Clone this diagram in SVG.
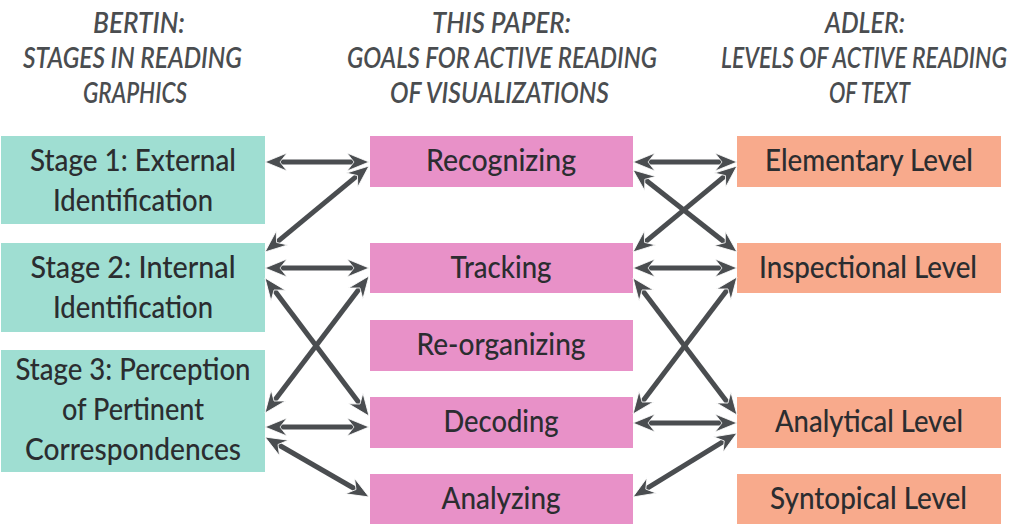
<svg xmlns="http://www.w3.org/2000/svg" width="1024" height="528" viewBox="0 0 1024 528">
  <style>
    .hdr { font-family: Lato, "Open Sans", "Liberation Sans", sans-serif; font-style: italic; font-weight: 600; font-size: 28px; fill: #4a4d50; text-anchor: middle; }
    .lbl { font-family: Lato, "Open Sans", "Liberation Sans", sans-serif; font-weight: 500; font-size: 30px; fill: #2b2d30; text-anchor: middle; }
    .bertin { fill: #9fded2; }
    .goal { fill: #e891c8; }
    .adler { fill: #f8aa8c; }
    .arrow { fill: none; stroke: #4a4d50; stroke-width: 5; marker-start: url(#head); marker-end: url(#head); }
  </style>
  <defs>
    <marker id="head" markerUnits="userSpaceOnUse" viewBox="-24 -11 26 22" markerWidth="26" markerHeight="22" refX="-12" refY="0" orient="auto-start-reverse">
      <path d="M0,0 L-22,-9 L-15,0 L-22,9 Z" fill="#4a4d50" stroke="#ffffff" stroke-width="0.8" stroke-linejoin="miter"/>
    </marker>
  </defs>
  <rect width="1024" height="528" fill="#ffffff"/>

  <!-- column headings -->
  <g id="heading-bertin">
    <text class="hdr" x="139" y="33" textLength="92" lengthAdjust="spacingAndGlyphs">BERTIN:</text>
    <text class="hdr" x="132.5" y="68" textLength="219" lengthAdjust="spacingAndGlyphs">STAGES IN READING</text>
    <text class="hdr" x="135" y="103" textLength="104" lengthAdjust="spacingAndGlyphs">GRAPHICS</text>
  </g>
  <g id="heading-paper">
    <text class="hdr" x="501.5" y="33" textLength="139" lengthAdjust="spacingAndGlyphs">THIS PAPER:</text>
    <text class="hdr" x="502" y="68" textLength="310" lengthAdjust="spacingAndGlyphs">GOALS FOR ACTIVE READING</text>
    <text class="hdr" x="499.5" y="103" textLength="219" lengthAdjust="spacingAndGlyphs">OF VISUALIZATIONS</text>
  </g>
  <g id="heading-adler">
    <text class="hdr" x="865" y="33" textLength="80" lengthAdjust="spacingAndGlyphs">ADLER:</text>
    <text class="hdr" x="864" y="68" textLength="286" lengthAdjust="spacingAndGlyphs">LEVELS OF ACTIVE READING</text>
    <text class="hdr" x="869.5" y="103" textLength="81" lengthAdjust="spacingAndGlyphs">OF TEXT</text>
  </g>

  <!-- Bertin: stages in reading graphics -->
  <g id="stage1">
    <rect class="bertin" x="1" y="136" width="264" height="88"/>
    <text class="lbl" x="133" y="171" textLength="206" lengthAdjust="spacingAndGlyphs">Stage 1: External</text>
    <text class="lbl" x="133" y="211" textLength="160" lengthAdjust="spacingAndGlyphs">Identification</text>
  </g>
  <g id="stage2">
    <rect class="bertin" x="1" y="243" width="264" height="89"/>
    <text class="lbl" x="133" y="278" textLength="205" lengthAdjust="spacingAndGlyphs">Stage 2: Internal</text>
    <text class="lbl" x="133" y="318" textLength="160" lengthAdjust="spacingAndGlyphs">Identification</text>
  </g>
  <g id="stage3">
    <rect class="bertin" x="1" y="350" width="264" height="122"/>
    <text class="lbl" x="133" y="380" textLength="235" lengthAdjust="spacingAndGlyphs">Stage 3: Perception</text>
    <text class="lbl" x="133" y="420" textLength="142" lengthAdjust="spacingAndGlyphs">of Pertinent</text>
    <text class="lbl" x="133" y="460" textLength="216" lengthAdjust="spacingAndGlyphs">Correspondences</text>
  </g>

  <!-- goals for active reading of visualizations -->
  <g id="recognizing">
    <rect class="goal" x="370" y="136" width="263" height="51"/>
    <text class="lbl" x="501" y="171" textLength="150" lengthAdjust="spacingAndGlyphs">Recognizing</text>
  </g>
  <g id="tracking">
    <rect class="goal" x="370" y="243" width="263" height="50"/>
    <text class="lbl" x="501" y="278" textLength="101" lengthAdjust="spacingAndGlyphs">Tracking</text>
  </g>
  <g id="reorganizing">
    <rect class="goal" x="370" y="320" width="263" height="51"/>
    <text class="lbl" x="501" y="355" textLength="169" lengthAdjust="spacingAndGlyphs">Re-organizing</text>
  </g>
  <g id="decoding">
    <rect class="goal" x="370" y="397" width="263" height="51"/>
    <text class="lbl" x="501" y="432" textLength="115" lengthAdjust="spacingAndGlyphs">Decoding</text>
  </g>
  <g id="analyzing">
    <rect class="goal" x="370" y="474" width="263" height="50"/>
    <text class="lbl" x="501" y="509" textLength="119" lengthAdjust="spacingAndGlyphs">Analyzing</text>
  </g>

  <!-- Adler: levels of active reading of text -->
  <g id="elementary">
    <rect class="adler" x="737" y="136" width="264" height="51"/>
    <text class="lbl" x="869" y="171" textLength="208" lengthAdjust="spacingAndGlyphs">Elementary Level</text>
  </g>
  <g id="inspectional">
    <rect class="adler" x="737" y="243" width="264" height="50"/>
    <text class="lbl" x="868" y="278" textLength="218" lengthAdjust="spacingAndGlyphs">Inspectional Level</text>
  </g>
  <g id="analytical">
    <rect class="adler" x="737" y="397" width="264" height="51"/>
    <text class="lbl" x="869" y="432" textLength="188" lengthAdjust="spacingAndGlyphs">Analytical Level</text>
  </g>
  <g id="syntopical">
    <rect class="adler" x="737" y="474" width="264" height="50"/>
    <text class="lbl" x="868.5" y="509" textLength="197" lengthAdjust="spacingAndGlyphs">Syntopical Level</text>
  </g>

  <!-- two-way links between the columns -->
  <g id="connectors">
    <line class="arrow" x1="277" y1="162" x2="357" y2="162"/>
    <line class="arrow" x1="274.25" y1="244.35" x2="359.75" y2="173.65"/>
    <line class="arrow" x1="277" y1="268" x2="357" y2="268"/>
    <line class="arrow" x1="272.22" y1="287.58" x2="361.78" y2="406.42"/>
    <line class="arrow" x1="272.26" y1="403.44" x2="361.74" y2="285.56"/>
    <line class="arrow" x1="277" y1="427" x2="357" y2="427"/>
    <line class="arrow" x1="275.39" y1="443" x2="358.61" y2="491"/>

    <line class="arrow" x1="645" y1="162" x2="725" y2="162"/>
    <line class="arrow" x1="642.43" y1="177.43" x2="727.57" y2="244.57"/>
    <line class="arrow" x1="642.25" y1="244.35" x2="727.75" y2="173.65"/>
    <line class="arrow" x1="645" y1="268" x2="725" y2="268"/>
    <line class="arrow" x1="640.26" y1="287.56" x2="729.74" y2="405.44"/>
    <line class="arrow" x1="640.26" y1="404.44" x2="729.74" y2="286.56"/>
    <line class="arrow" x1="645" y1="423" x2="725" y2="423"/>
    <line class="arrow" x1="726.78" y1="439.29" x2="643.22" y2="490.71"/>
  </g>
</svg>
